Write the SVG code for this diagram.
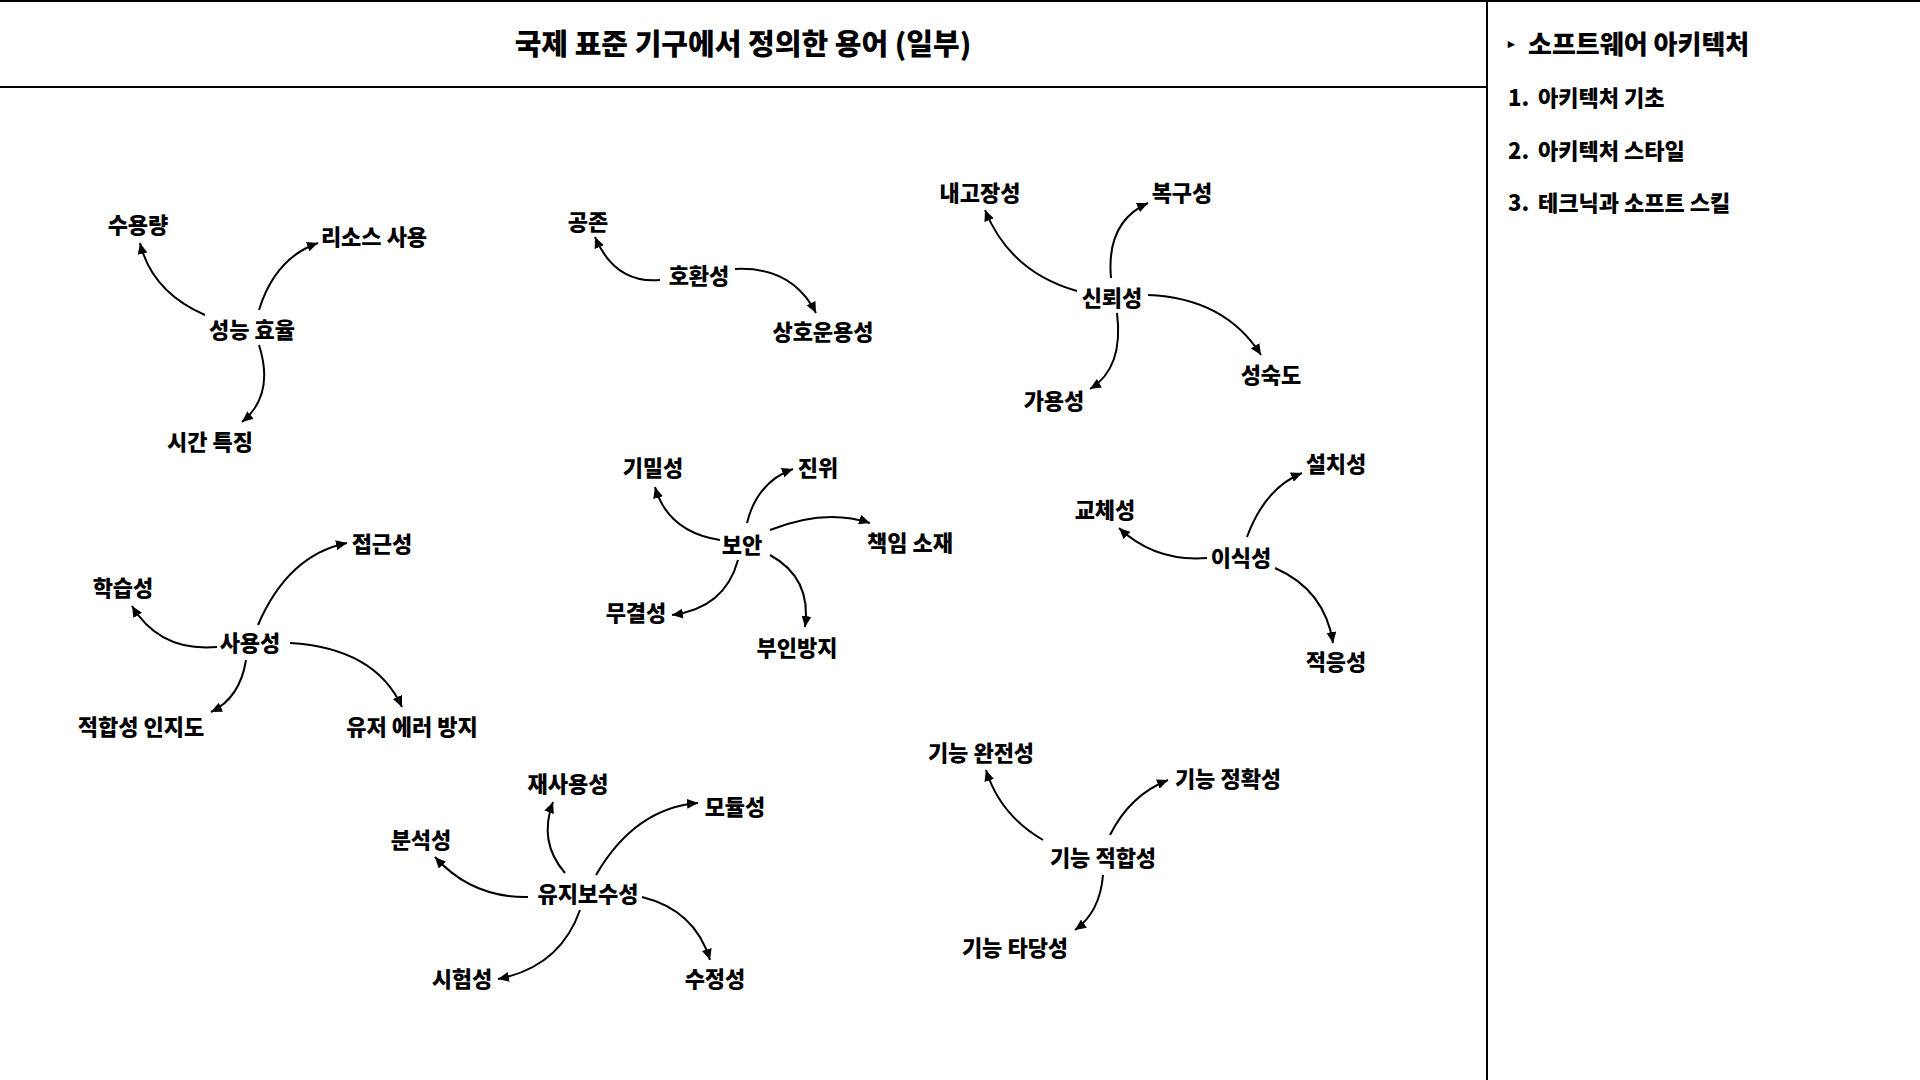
<svg xmlns="http://www.w3.org/2000/svg" width="1920" height="1080" viewBox="0 0 1920 1080">
<style>
  text { font-family: "Noto Sans CJK KR", "Noto Sans", sans-serif; font-weight: 900; fill: #000; }
  .node text { font-size: 22px; text-anchor: middle; dominant-baseline: central; }
  .title { font-size: 29px; text-anchor: middle; dominant-baseline: central; }
  .side { font-size: 22px; dominant-baseline: central; }
  .sidehead { font-size: 26px; dominant-baseline: central; }
  .frame { stroke: #000; fill: none; }
  #connectors path { fill: none; stroke: #000; stroke-width: 2; marker-end: url(#arrow); }
</style>
<defs>
  <marker id="arrow" markerUnits="userSpaceOnUse" markerWidth="12" markerHeight="10" refX="11" refY="5" orient="auto">
    <path d="M0,0 L11,5 L0,10 z" fill="#000"/>
  </marker>
</defs>
<rect width="1920" height="1080" fill="#fff"/>
<g id="frame">
  <line class="frame" x1="0" y1="1" x2="1920" y2="1" stroke-width="2"/>
  <line class="frame" x1="0" y1="87" x2="1487" y2="87" stroke-width="2"/>
  <line class="frame" x1="1487" y1="0" x2="1487" y2="1080" stroke-width="2"/>
</g>
<g id="title"><text class="title" x="743" y="42">국제 표준 기구에서 정의한 용어 (일부)</text></g>
<g id="sidebar">
  <text class="sidehead" x="1508" y="42"><tspan font-size="13">▸</tspan><tspan x="1528">소프트웨어 아키텍처</tspan></text>
  <text class="side" x="1508" y="96">1.<tspan x="1538">아키텍처 기초</tspan></text>
  <text class="side" x="1508" y="149">2.<tspan x="1538">아키텍처 스타일</tspan></text>
  <text class="side" x="1508" y="201">3.<tspan x="1538">테크닉과 소프트 스킬</tspan></text>
</g>
<g id="connectors">
  <path d="M205,315 Q152,292 140,243"/>
  <path d="M259,310 Q275,258 318,243"/>
  <path d="M259,345 Q275,395 242,422"/>
  <path d="M660,280 Q615,284 595,237"/>
  <path d="M735,269 Q792,266 816,313"/>
  <path d="M1077,291 Q1010,272 985,210"/>
  <path d="M1111,278 Q1106,222 1148,203"/>
  <path d="M1148,295 Q1225,298 1261,355"/>
  <path d="M1117,313 Q1124,368 1090,389"/>
  <path d="M720,540 Q668,532 655,487"/>
  <path d="M747,523 Q757,482 793,469"/>
  <path d="M770,530 Q825,508 870,523"/>
  <path d="M738,560 Q725,608 672,615"/>
  <path d="M770,555 Q812,578 805,627"/>
  <path d="M258,625 Q288,555 347,543"/>
  <path d="M217,647 Q160,652 132,606"/>
  <path d="M246,660 Q240,698 211,712"/>
  <path d="M290,643 Q375,648 402,707"/>
  <path d="M1247,537 Q1265,488 1302,473"/>
  <path d="M1207,558 Q1155,562 1119,528"/>
  <path d="M1275,568 Q1325,590 1333,643"/>
  <path d="M565,873 Q538,842 553,802"/>
  <path d="M596,875 Q635,808 698,803"/>
  <path d="M528,897 Q472,898 435,857"/>
  <path d="M580,910 Q560,967 498,979"/>
  <path d="M642,897 Q695,910 710,960"/>
  <path d="M1043,840 Q1000,815 986,770"/>
  <path d="M1110,835 Q1130,795 1168,780"/>
  <path d="M1103,875 Q1100,912 1075,930"/>
</g>
<g id="n-perf" class="node"><text x="252" y="328">성능 효율</text></g>
<g id="n-capacity" class="node"><text x="138" y="223">수용량</text></g>
<g id="n-resource" class="node"><text x="374" y="235">리소스 사용</text></g>
<g id="n-time" class="node"><text x="210" y="440">시간 특징</text></g>

<g id="n-compat" class="node"><text x="699" y="274">호환성</text></g>
<g id="n-coexist" class="node"><text x="588" y="220">공존</text></g>
<g id="n-interop" class="node"><text x="823" y="330">상호운용성</text></g>

<g id="n-reliab" class="node"><text x="1112" y="296">신뢰성</text></g>
<g id="n-fault" class="node"><text x="980" y="191">내고장성</text></g>
<g id="n-recover" class="node"><text x="1182" y="191">복구성</text></g>
<g id="n-mature" class="node"><text x="1271" y="373">성숙도</text></g>
<g id="n-avail" class="node"><text x="1054" y="399">가용성</text></g>

<g id="n-security" class="node"><text x="742" y="543">보안</text></g>
<g id="n-confid" class="node"><text x="653" y="466">기밀성</text></g>
<g id="n-auth" class="node"><text x="818" y="466">진위</text></g>
<g id="n-account" class="node"><text x="910" y="541">책임 소재</text></g>
<g id="n-integrity" class="node"><text x="636" y="611">무결성</text></g>
<g id="n-nonrep" class="node"><text x="797" y="646">부인방지</text></g>

<g id="n-usab" class="node"><text x="250" y="641">사용성</text></g>
<g id="n-access" class="node"><text x="382" y="542">접근성</text></g>
<g id="n-learn" class="node"><text x="123" y="586">학습성</text></g>
<g id="n-approp" class="node"><text x="141" y="725">적합성 인지도</text></g>
<g id="n-error" class="node"><text x="412" y="725">유저 에러 방지</text></g>

<g id="n-port" class="node"><text x="1241" y="556">이식성</text></g>
<g id="n-install" class="node"><text x="1336" y="462">설치성</text></g>
<g id="n-replace" class="node"><text x="1105" y="508">교체성</text></g>
<g id="n-adapt" class="node"><text x="1336" y="660">적응성</text></g>

<g id="n-maint" class="node"><text x="588" y="892">유지보수성</text></g>
<g id="n-reuse" class="node"><text x="568" y="782">재사용성</text></g>
<g id="n-modular" class="node"><text x="735" y="805">모듈성</text></g>
<g id="n-analyz" class="node"><text x="421" y="838">분석성</text></g>
<g id="n-test" class="node"><text x="462" y="977">시험성</text></g>
<g id="n-modif" class="node"><text x="715" y="977">수정성</text></g>

<g id="n-func" class="node"><text x="1103" y="856">기능 적합성</text></g>
<g id="n-fcomplete" class="node"><text x="981" y="751">기능 완전성</text></g>
<g id="n-fcorrect" class="node"><text x="1228" y="777">기능 정확성</text></g>
<g id="n-fapprop" class="node"><text x="1015" y="946">기능 타당성</text></g>
</svg>
